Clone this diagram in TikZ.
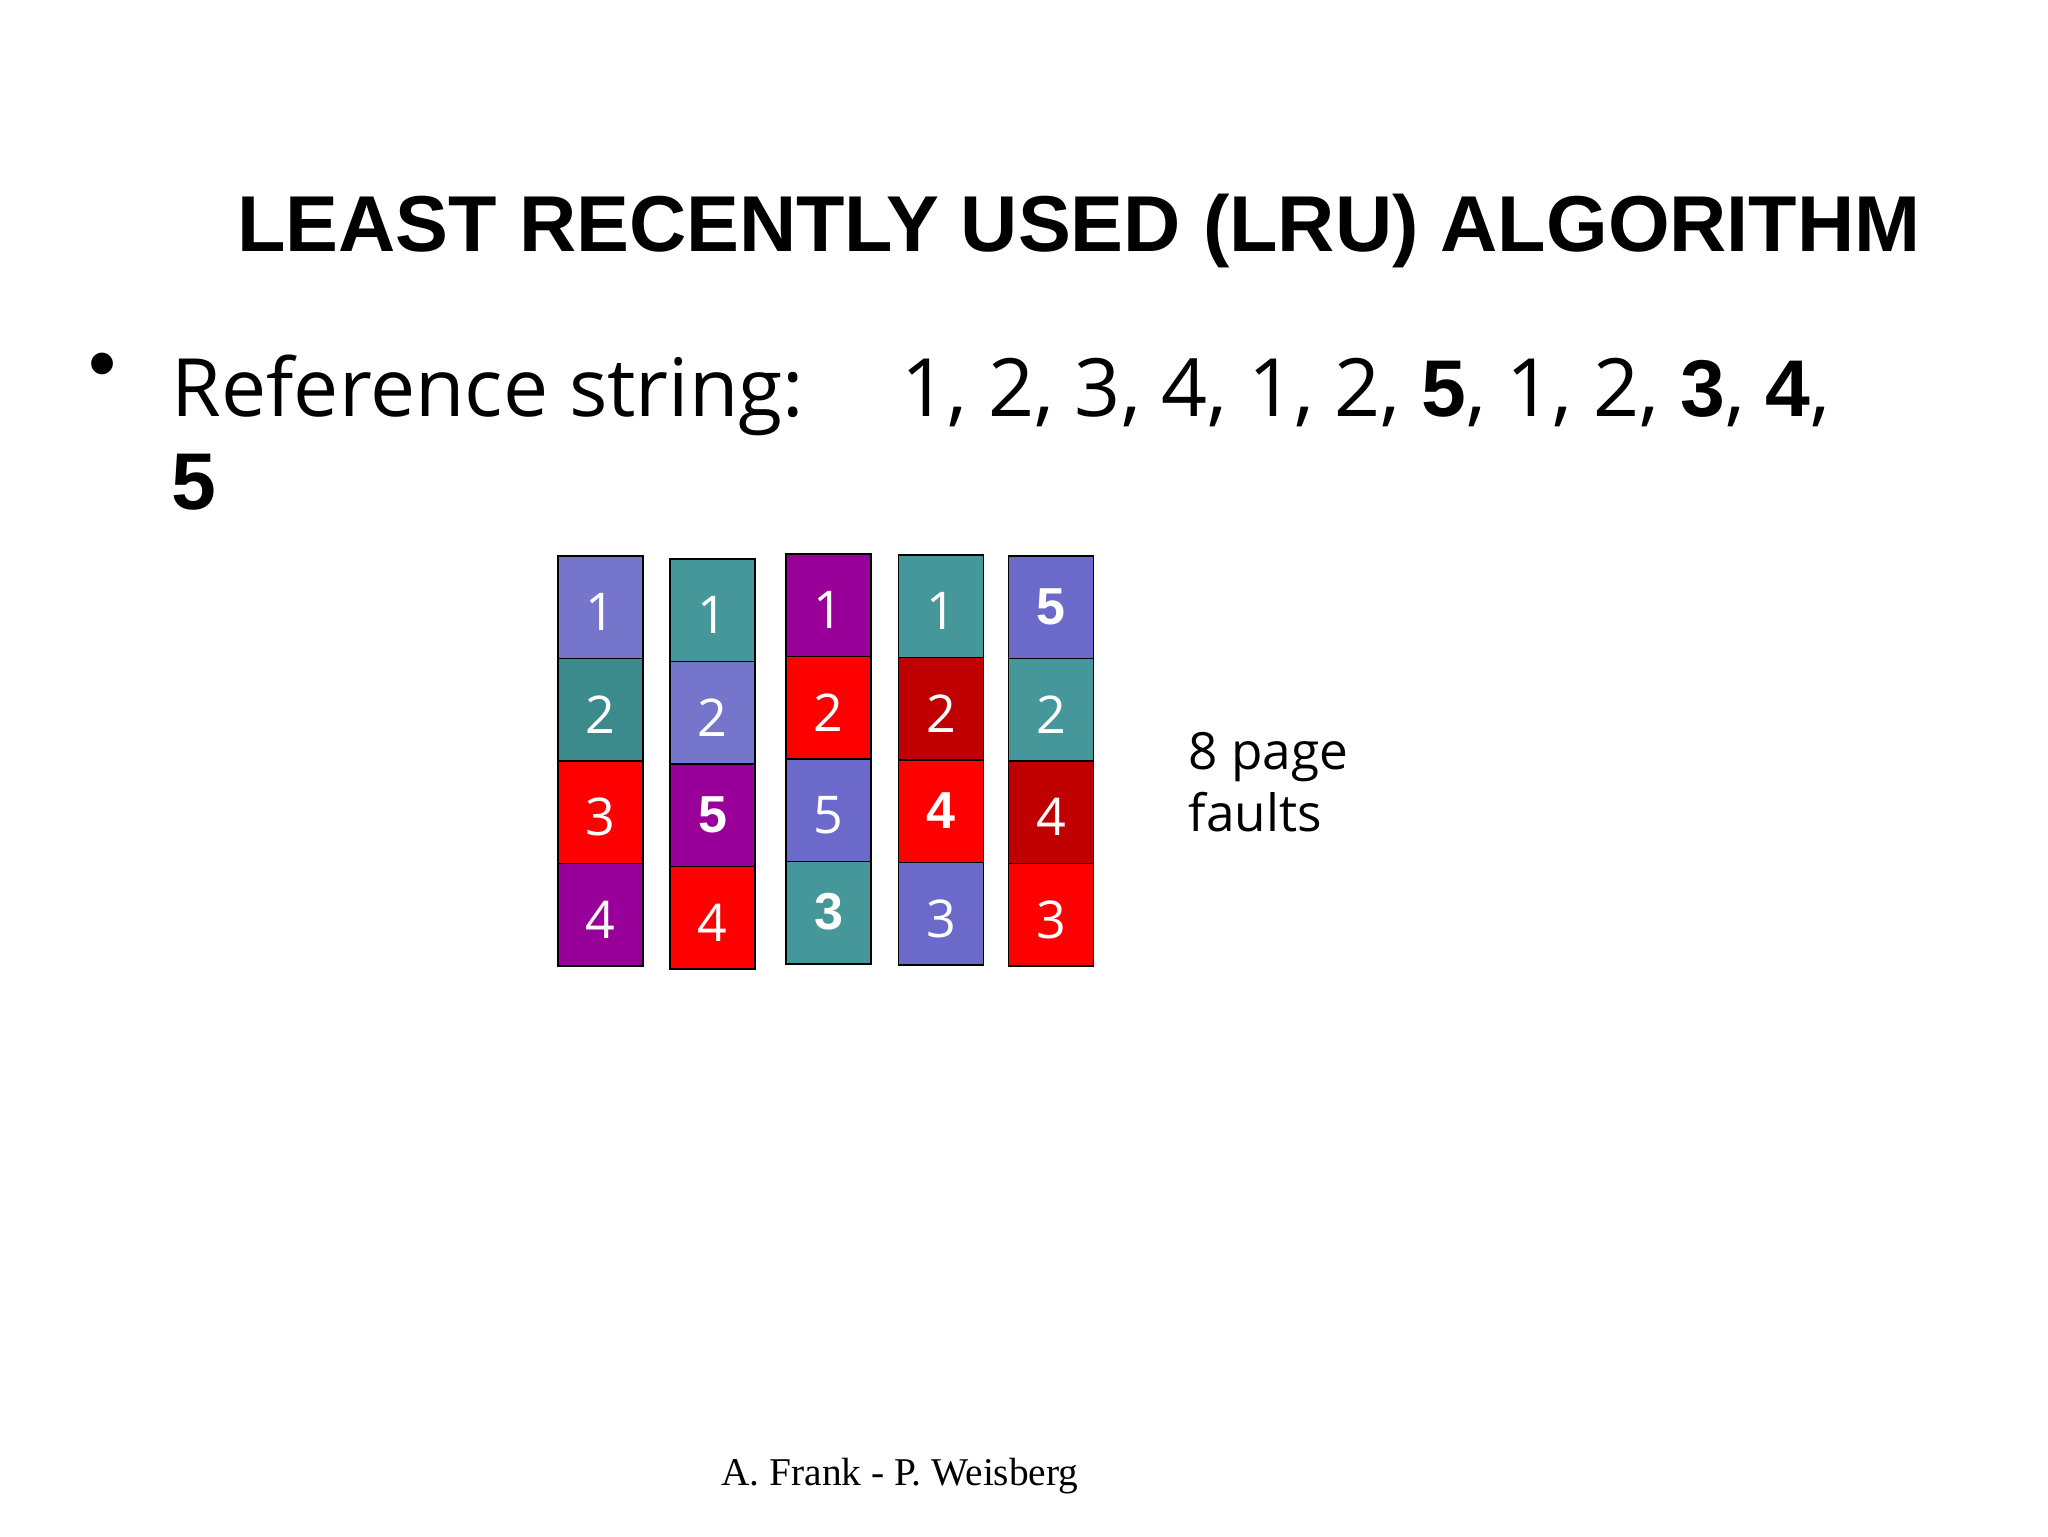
\documentclass[tikz,border=0pt]{standalone}
\usepackage{fontspec}
\setmainfont{Open Sans}
\newfontfamily\headfont{Liberation Sans}
\newfontfamily\footfont{Liberation Serif}
\usetikzlibrary{positioning}
\definecolor{LruLilac}{HTML}{7575CC}
\definecolor{LruIris}{HTML}{6B6ACA}
\definecolor{LruTeal}{HTML}{45979A}
\definecolor{LruTealDeep}{HTML}{3C8B8C}
\definecolor{LruRed}{HTML}{FF0000}
\definecolor{LruCrimson}{HTML}{C00000}
\definecolor{LruPlum}{HTML}{990099}
\newcommand{\boldpage}[1]{{\headfont\bfseries #1}}
\newcommand{\fault}[1]{\raisebox{1.8pt}{\boldpage{#1}}}
\tikzset{
  every node/.style={inner sep=0pt, text=black},
  frame/.style={draw=black, line width=0.55pt, minimum width=8.5mm, minimum height=10.25mm,
    text=white, font=\fontsize{14.8}{17}\selectfont, text height=13.4pt, text depth=0pt},
  heading/.style={font=\headfont\bfseries\fontsize{22.55}{27}\selectfont},
  body/.style={font=\fontsize{22.9}{26.2}\selectfont, align=left},
  note/.style={font=\fontsize{14.6}{17.6}\selectfont, align=left},
  credit/.style={font=\footfont\fontsize{11.2}{13}\selectfont},
}
\begin{document}
\begin{tikzpicture}[x=0.1mm,y=-0.1mm]
  % Page: 2048 x 1536 units, y runs downwards
  \fill[white] (0,0) rectangle (2048,1536);
  \useasboundingbox (0,0) rectangle (2048,1536);
  % Title and reference string
  \node[heading, anchor=base] (title) at (1079,251) {LEAST RECENTLY USED (LRU) ALGORITHM};
  \node[font=\headfont\fontsize{22.8}{26}\selectfont] (dot) at (103,372) {\textbullet};
  \node[body, anchor=north west] (refstr) at (171,354)
    {\makebox[207.7pt][l]{Reference string:}1, 2, 3, 4, 1, 2, \boldpage{5}, 1, 2, \boldpage{3}, \boldpage{4},\\[0.4pt]\boldpage{5}};
  % Frame stacks, one column per replacement step
  \foreach \r/\c/\t in {0/LruLilac/1, 1/LruTealDeep/2, 2/LruRed/3, 3/LruPlum/4}
    \node[frame, fill=\c] (ca\r) at (600.5, {607.25+\r*102.5}) {\t};
  \foreach \r/\c/\t in {0/LruTeal/1, 1/LruLilac/2, 2/LruPlum/{\fault{5}}, 3/LruRed/4}
    \node[frame, fill=\c] (cb\r) at (712.5, {610.25+\r*102.5}) {\t};
  \foreach \r/\c/\t in {0/LruPlum/1, 1/LruRed/2, 2/LruIris/5, 3/LruTeal/{\fault{3}}}
    \node[frame, fill=\c] (cc\r) at (828.5, {605.25+\r*102.5}) {\t};
  \foreach \r/\c/\t in {0/LruTeal/1, 1/LruCrimson/2, 2/LruRed/{\fault{4}}, 3/LruIris/3}
    \node[frame, fill=\c] (cd\r) at (941, {606.25+\r*102.5}) {\t};
  \foreach \r/\c/\t in {0/LruIris/{\fault{5}}, 1/LruTeal/2, 2/LruCrimson/4, 3/LruRed/3}
    \node[frame, fill=\c] (ce\r) at (1051, {607.25+\r*102.5}) {\t};
  % Fault count and footer
  \node[note, anchor=north west] (faults) at (1188,732) {8 page\\faults};
  \node[credit, anchor=base] (credit) at (900,1485) {A. Frank - P. Weisberg};
\end{tikzpicture}
\end{document}
